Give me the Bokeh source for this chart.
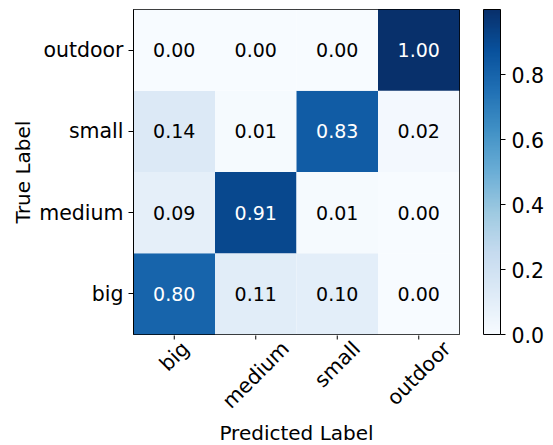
import math

from bokeh.embed import file_html
from bokeh.resources import INLINE
from bokeh.plotting import figure
from bokeh.layouts import column, row
from bokeh.models import (ColumnDataSource, LinearColorMapper, ColorBar,
                          FixedTicker, PrintfTickFormatter, FactorRange, Range1d)
from bokeh.transform import transform
from bokeh.core.properties import value
from bokeh.palettes import Blues256

# Class names (rows = true label, columns = predicted label)
classes = ["big", "medium", "small", "outdoor"]

# Normalized confusion matrix, one list per true class
row_big = [0.80, 0.11, 0.10, 0.00]
row_medium = [0.09, 0.91, 0.01, 0.00]
row_small = [0.14, 0.01, 0.83, 0.02]
row_outdoor = [0.00, 0.00, 0.00, 1.00]

colorbar_ticks = [0.0, 0.2, 0.4, 0.6, 0.8]

matrix = [row_big, row_medium, row_small, row_outdoor]

xs, ys, vals, labels, txt_colors = [], [], [], [], []
for true_cls, row_vals in zip(classes, matrix):
    for pred_cls, v in zip(classes, row_vals):
        xs.append(pred_cls)
        ys.append(true_cls)
        vals.append(v)
        labels.append(f"{v:.2f}")
        txt_colors.append("white" if v > 0.5 else "black")

source = ColumnDataSource(dict(x=xs, y=ys, value=vals, label=labels, tcolor=txt_colors))

FONT = "DejaVu Sans"
TICK_PX = 20.5
FRAME_W, FRAME_H = 326, 325
LEFT, TOP = 133, 9
GAP_RIGHT = 2           # sliver right of the heatmap so its border is not cut
BOTTOM_GAP = 1          # sliver under the heatmap for the same reason
TOTAL_W, TOTAL_H = 553, 445

mapper = LinearColorMapper(palette=list(reversed(Blues256)), low=0.0, high=1.0)

x_range = FactorRange(*classes, range_padding=0)

# ---- heatmap -------------------------------------------------------------
p = figure(
    x_range=x_range,
    y_range=FactorRange(*classes, range_padding=0),
    width=LEFT + FRAME_W + GAP_RIGHT, height=TOP + FRAME_H + BOTTOM_GAP,
    frame_width=FRAME_W, frame_height=FRAME_H,
    min_border_left=LEFT, min_border_top=TOP,
    min_border_right=GAP_RIGHT, min_border_bottom=BOTTOM_GAP,
    output_backend="svg", toolbar_location=None, tools="",
)

p.rect(x="x", y="y", width=1, height=1, source=source,
       fill_color=transform("value", mapper), line_color=None)

p.text(x="x", y="y", text="label", source=source,
       text_color="tcolor", text_align="center", text_baseline="middle",
       text_font=value(FONT), text_font_size="19px")

p.outline_line_color = "black"
p.outline_line_width = 1
p.grid.grid_line_color = None

# x axis is drawn in the strip below (rotated labels centred on the ticks)
p.xaxis.visible = False

ya = p.yaxis[0]
ya.axis_line_color = "black"
ya.major_tick_line_color = "black"
ya.major_tick_out = 5
ya.major_tick_in = 0
ya.minor_tick_line_color = None
ya.major_label_text_font = FONT
ya.major_label_text_font_size = f"{TICK_PX}px"
ya.major_label_text_color = "black"
ya.major_label_standoff = 5
ya.axis_label = "True Label"
ya.axis_label_text_font = FONT
ya.axis_label_text_font_size = "20px"
ya.axis_label_text_font_style = "normal"
ya.axis_label_text_color = "black"
ya.axis_label_standoff = 1

# ---- strip under the heatmap: y = pixels below the heatmap's bottom edge --
strip_h = TOTAL_H - (TOP + FRAME_H + BOTTOM_GAP)
p2 = figure(
    x_range=x_range,
    y_range=Range1d(-(BOTTOM_GAP + strip_h), -BOTTOM_GAP),
    width=LEFT + FRAME_W + GAP_RIGHT, height=strip_h,
    frame_width=FRAME_W, frame_height=strip_h,
    min_border_left=LEFT, min_border_right=GAP_RIGHT,
    min_border_top=0, min_border_bottom=0,
    output_backend="svg", toolbar_location=None, tools="",
)
p2.axis.visible = False
p2.grid.grid_line_color = None
p2.outline_line_color = None

# tick marks
p2.segment(x0=classes, y0=[0] * len(classes), x1=classes, y1=[-5] * len(classes),
           line_color="black", line_width=1)

# approximate DejaVu Sans advance widths (em) to size the rotated label boxes
char_w = {"b": .635, "i": .278, "g": .635, "m": .974, "e": .615, "d": .635,
          "u": .634, "s": .521, "a": .613, "l": .278, "o": .612, "t": .392,
          "r": .411}
tick_y = []
for name in classes:
    w = sum(char_w.get(c, .6) for c in name) * TICK_PX
    h = 1.17 * TICK_PX
    extent = (w + h) / math.sqrt(2)
    tick_y.append(-(2 + extent / 2))

p2.text(x=classes, y=tick_y, text=classes, angle=math.pi / 4,
        text_align="center", text_baseline="middle",
        text_font=value(FONT), text_font_size=f"{TICK_PX}px", text_color="black")

p2.text(x=[len(classes) / 2], y=[-98], text=["Predicted Label"],
        text_align="center", text_baseline="middle",
        text_font=value(FONT), text_font_size="20px", text_color="black")

# ---- colour bar ----------------------------------------------------------
cb_w = TOTAL_W - (LEFT + FRAME_W + GAP_RIGHT)
pc = figure(
    width=cb_w, height=TOTAL_H,
    frame_width=1, frame_height=FRAME_H,
    min_border_left=0, min_border_top=TOP,
    min_border_right=cb_w - 1, min_border_bottom=TOTAL_H - TOP - FRAME_H,
    output_backend="svg", toolbar_location=None, tools="",
)
pc.axis.visible = False
pc.grid.grid_line_color = None
pc.outline_line_color = None

color_bar = ColorBar(
    color_mapper=mapper,
    ticker=FixedTicker(ticks=colorbar_ticks),
    formatter=PrintfTickFormatter(format="%.1f"),
    width=17, height=FRAME_H,
    location=(21, 0),
    padding=0, margin=0,
    bar_line_color="black", bar_line_width=1,
    major_tick_in=0, major_tick_out=5,
    major_tick_line_color="black",
    minor_tick_line_color=None,
    label_standoff=6,
    major_label_text_font=FONT,
    major_label_text_font_size=f"{TICK_PX}px",
    major_label_text_color="black",
    border_line_color=None,
    background_fill_color=None,
)
pc.add_layout(color_bar, "right")

layout = row(column(p, p2, spacing=0), pc, spacing=0)
open("out.html", "w").write(file_html(layout, INLINE))
